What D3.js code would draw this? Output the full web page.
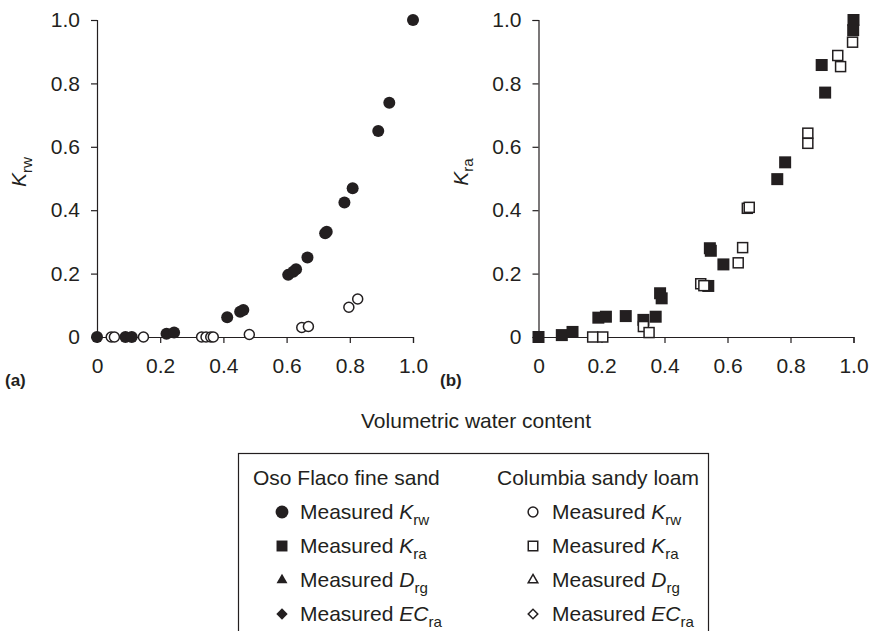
<!DOCTYPE html>
<html>
<head>
<meta charset="utf-8">
<script src="https://cdn.jsdelivr.net/npm/d3@7"></script>
<style>
  body { margin: 0; background: #fff; }
  svg text { font-family: "Liberation Sans", Arial, sans-serif; fill: #231f20; }
  .axis path, .axis line { stroke: #231f20; stroke-width: 1.2; }
  .axis text { font-size: 21px; }
</style>
</head>
<body>
<svg id="chart" width="872" height="631"></svg>
<script>
// Values: [volumetric water content, relative value]
const osoKrw = [
  [0, 0], [0.09, 0], [0.11, 0], [0.22, 0.01], [0.244, 0.014], [0.412, 0.062],
  [0.453, 0.08], [0.463, 0.085], [0.605, 0.196], [0.621, 0.206], [0.63, 0.214],
  [0.666, 0.251], [0.722, 0.327], [0.727, 0.332], [0.783, 0.424], [0.809, 0.469],
  [0.89, 0.65], [0.925, 0.739], [1.0, 1.0]
];
const columbiaKrw = [
  [0.045, 0], [0.055, 0], [0.147, 0], [0.331, 0], [0.345, 0], [0.36, 0], [0.368, 0],
  [0.482, 0.008], [0.648, 0.03], [0.669, 0.033], [0.797, 0.094], [0.825, 0.12]
];
const osoKra = [
  [0, 0], [0.074, 0.006], [0.108, 0.016], [0.19, 0.061], [0.214, 0.064], [0.277, 0.066],
  [0.333, 0.054], [0.372, 0.064], [0.386, 0.138], [0.391, 0.122], [0.539, 0.161],
  [0.544, 0.28], [0.547, 0.272], [0.587, 0.229], [0.758, 0.498], [0.783, 0.551],
  [0.899, 0.858], [0.91, 0.771], [0.999, 0.968], [1.0, 1.0]
];
const columbiaKra = [
  [0.172, 0], [0.204, 0], [0.333, 0.033], [0.351, 0.014], [0.515, 0.168], [0.525, 0.162],
  [0.634, 0.234], [0.648, 0.282], [0.663, 0.406], [0.669, 0.409], [0.855, 0.643],
  [0.855, 0.611], [0.95, 0.888], [0.959, 0.853], [0.997, 0.93]
];

const xTicks = [0, 0.2, 0.4, 0.6, 0.8, 1.0];
const xTickLabels = ["0", "0.2", "0.4", "0.6", "0.8", "1.0"];
const yTicks = [0, 0.2, 0.4, 0.6, 0.8, 1.0];
const yTickLabels = ["0", "0.2", "0.4", "0.6", "0.8", "1.0"];

const legendHeads = ["Oso Flaco fine sand", "Columbia sandy loam"];
const legendSymbols = ["circle", "square", "triangle", "diamond"];
const legendVars = [["K", "rw"], ["K", "ra"], ["D", "rg"], ["EC", "ra"]];

const ink = "#231f20";
const svg = d3.select("#chart");

// shared y scale, each panel has its own x
const y = d3.scaleLinear().domain([0, 1]).range([337, 20]);
const xa = d3.scaleLinear().domain([0, 1]).range([97, 413]);
const xb = d3.scaleLinear().domain([0, 1]).range([538.5, 853.5]);


function addLabel(g, main, sub, size){
	// italic variable with an upright subscript
	g.append("tspan").attr("font-style", "italic").text(main);
	g.append("tspan").attr("font-size", size*0.72).attr("dy", size*0.28).text(sub);
}


function panel(x, ylab, tag, tagX){
	let g = svg.append("g");

	g.append("g").attr("class", "axis")
	  .attr("transform", `translate(0,${y(0)})`)
	  .call(d3.axisBottom(x).tickValues(xTicks).tickSizeOuter(0).tickSize(6).tickPadding(15)
	    .tickFormat((d,i)=>xTickLabels[i]));

	g.append("g").attr("class", "axis")
	  .attr("transform", `translate(${x(0)},0)`)
	  .call(d3.axisLeft(y).tickValues(yTicks).tickSizeOuter(0).tickSize(6).tickPadding(11)
	    .tickFormat((d,i)=>yTickLabels[i]));

	g.selectAll(".axis .tick text").attr("fill", ink);
	g.selectAll(".axis .domain, .axis line").attr("stroke", ink);

	let t = g.append("text")
	  .attr("transform", `translate(${x(0)-71},172) rotate(-90)`)
	  .attr("text-anchor", "middle")
	  .attr("font-size", 21);
	addLabel(t, ylab[0], ylab[1], 21);

	g.append("text")
	  .attr("x", tagX).attr("y", 386)
	  .attr("font-size", 17).attr("font-weight", "bold")
	  .text(tag);

	return g;
}


let pa = panel(xa, ["K", "rw"], "(a)", 5);
let pb = panel(xb, ["K", "ra"], "(b)", 440);

// panel (a): water permeability, filled first so open circles sit on top
pa.append("g").selectAll("circle")
  .data(osoKrw).join("circle")
  .attr("cx", d=>xa(d[0])).attr("cy", d=>y(d[1]))
  .attr("r", 6).attr("fill", ink);

pa.append("g").selectAll("circle")
  .data(columbiaKrw).join("circle")
  .attr("cx", d=>xa(d[0])).attr("cy", d=>y(d[1]))
  .attr("r", 5).attr("fill", "#fff").attr("stroke", ink).attr("stroke-width", 1.5);

// panel (b): air permeability
pb.append("g").selectAll("rect")
  .data(osoKra).join("rect")
  .attr("x", d=>xb(d[0])-6).attr("y", d=>y(d[1])-6)
  .attr("width", 12).attr("height", 12).attr("fill", ink);

pb.append("g").selectAll("rect")
  .data(columbiaKra).join("rect")
  .attr("x", d=>xb(d[0])-5).attr("y", d=>y(d[1])-5)
  .attr("width", 10).attr("height", 10)
  .attr("fill", "#fff").attr("stroke", ink).attr("stroke-width", 1.5);


// common x title
svg.append("text")
  .attr("x", 476).attr("y", 428)
  .attr("text-anchor", "middle").attr("font-size", 21)
  .text("Volumetric water content");


// legend box (runs off the bottom of the figure)
let lg = svg.append("g");
lg.append("rect")
  .attr("x", 238.5).attr("y", 453.5).attr("width", 470).attr("height", 200)
  .attr("fill", "none").attr("stroke", ink).attr("stroke-width", 1.2);

const colX = [253, 497];
const symX = [282, 533];
const textX = [300, 552];
const rowY = d3.scaleLinear().domain([0, 4]).range([485, 621]);

legendHeads.forEach((h,i)=>{
	lg.append("text").attr("x", colX[i]).attr("y", rowY(0)).attr("font-size", 21).text(h);
});

// symbol sizes (area) for filled / open columns; diamond is a turned square
const symSize = {circle: [130, 75], square: [120, 90], triangle: [52, 40], diamond: [64, 46]};
const symType = {circle: d3.symbolCircle, square: d3.symbolSquare, triangle: d3.symbolTriangle, diamond: d3.symbolSquare};

[0,1].forEach(col=>{
	legendSymbols.forEach((s,i)=>{
		let rot = s=="diamond" ? 45 : 0;
		let p = lg.append("path")
		  .attr("d", d3.symbol().type(symType[s]).size(symSize[s][col])())
		  .attr("transform", `translate(${symX[col]},${rowY(i+1)-7}) rotate(${rot})`);
		if(col==0){
			p.attr("fill", ink);
		} else {
			p.attr("fill", "#fff").attr("stroke", ink).attr("stroke-width", 1.5);
		}
		let t = lg.append("text").attr("x", textX[col]).attr("y", rowY(i+1)).attr("font-size", 21);
		t.append("tspan").text("Measured ");
		addLabel(t, legendVars[i][0], legendVars[i][1], 21);
	});
});
</script>
</body>
</html>
